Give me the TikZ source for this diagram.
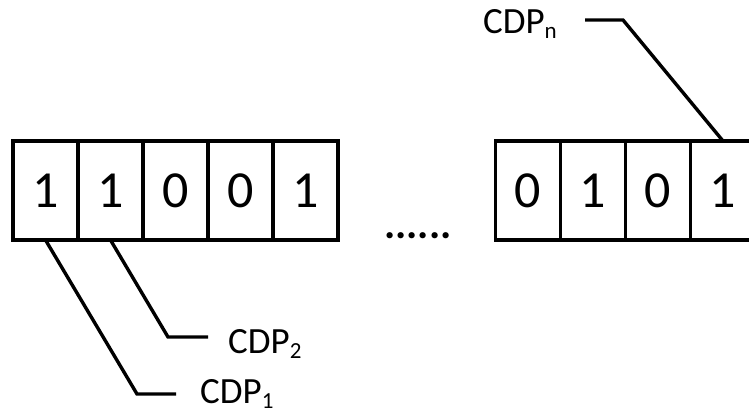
\documentclass[tikz,border=0pt]{standalone}
\usepackage{fontspec}
\setmainfont{Carlito}
\usetikzlibrary{positioning}
\newcommand{\idx}[1]{\raisebox{-5pt}{\fontsize{23}{25}\selectfont #1}}

\begin{document}
\begin{tikzpicture}[
    x=1pt, y=-1pt,
    node distance = 0pt and 0pt,
    bit/.style = {rectangle, draw, line width=3.4pt, minimum width=65pt,
                  minimum height=99pt, inner sep=0pt, outer sep=0pt,
                  font=\fontsize{52}{56}\selectfont},
    tag/.style = {inner sep=0pt, anchor=base west,
                  font=\fontsize{37}{40}\selectfont},
    lead/.style = {black, line width=3.4pt},
    ]
    \clip (0,0) rectangle (749,414);
    %nodes
    \node[bit] (c1) at (45.5,190.5) {1};
    \node[bit] (c2) [right=of c1] {1};
    \node[bit] (c3) [right=of c2] {0};
    \node[bit] (c4) [right=of c3] {0};
    \node[bit] (c5) [right=of c4] {1};

    \node[tag, anchor=base, font=\fontsize{42}{44}\selectfont\bfseries]
        (dots) at (418,238) {......};

    \node[bit] (d1) at (528,190.5) {0};
    \node[bit] (d2) [right=of d1] {1};
    \node[bit] (d3) [right=of d2] {0};
    \node[bit] (d4) [right=of d3] {1};

    \node[tag] (lab1) at (200,403) {CDP\idx{1}};
    \node[tag] (lab2) at (228,353) {CDP\idx{2}};
    \node[tag, anchor=base east] (labn) at (557,34) {CDP\idx{n}};

    \coordinate (b1) at (137,394);
    \coordinate (b2) at (168,337);
    \coordinate (bn) at (623,20);

    % edges
    \draw[lead] (c1.south) -- (b1) -- (b1 -| 176,0);
    \draw[lead] (c2.south) -- (b2) -- (b2 -| 208,0);
    \draw[lead] (d4.north) -- (bn) -- (bn -| 585,0);
\end{tikzpicture}
\end{document}
